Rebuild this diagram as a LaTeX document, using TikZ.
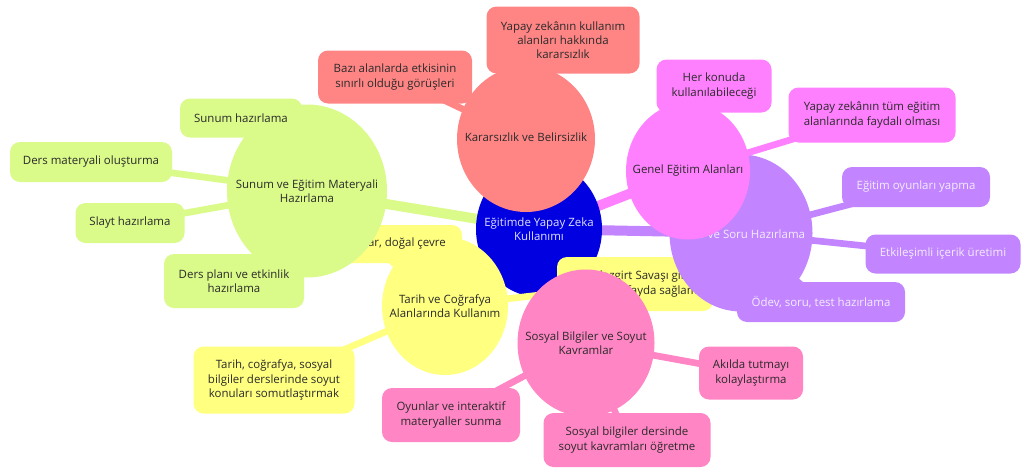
\documentclass[tikz,border=0pt]{standalone}
\usepackage{fontspec}
\setmainfont{Open Sans}
\usetikzlibrary{shapes.geometric}
\definecolor{cblue}{HTML}{0000E0}
\definecolor{cred}{HTML}{FF8585}
\definecolor{cgreen}{HTML}{DAFA8A}
\definecolor{cyellow}{HTML}{FFFF80}
\definecolor{cmag}{HTML}{FF80FF}
\definecolor{cpurp}{HTML}{C285FF}
\definecolor{cpink}{HTML}{FF85C4}
\definecolor{dtext}{HTML}{2A2A2A}
\definecolor{ltext}{HTML}{F2ECFF}
\tikzset{
  sz/.style 2 args={minimum width=#1*0.75pt, minimum height=#2*0.75pt},
  hub/.style={ellipse, draw=none, inner sep=0pt, outer sep=0pt},
  box/.style={rectangle, rounded corners=7.5pt, draw=none, inner sep=0pt, outer sep=0pt},
  txt/.style={align=center, text=dtext, inner sep=0pt, font=\fontsize{8.6pt}{10.7pt}\selectfont},
  ltxt/.style={txt, text=ltext},
  mainedge/.style={line width=7.5pt},
  leafedge/.style={line width=5pt},
}
\begin{document}
\begin{tikzpicture}[x=0.75pt,y=-0.75pt]
\useasboundingbox (0,0) rectangle (1034,468);
% hub centres
\coordinate (cC) at (539,229);
\coordinate (cY) at (445,306);
\coordinate (cG) at (307,191);
\coordinate (cP) at (741,233);
\coordinate (cR) at (526,139);
\coordinate (cM) at (688,171);
\coordinate (cS) at (586,343);
% leaf centres
\coordinate (lBazi) at (395,77);
\coordinate (lYzk) at (563,40);
\coordinate (lSunum) at (241,118);
\coordinate (lDersmat) at (91,162);
\coordinate (lSlayt) at (130,223);
\coordinate (lDersplan) at (234,281);
\coordinate (lDogal) at (371,244);
\coordinate (lTarih) at (274,380);
\coordinate (lMalaz) at (635,284);
\coordinate (lAkil) at (751,373);
\coordinate (lSosyal) at (627,440);
\coordinate (lOyun) at (451,415);
\coordinate (lOyunyap) at (916,187);
\coordinate (lEtkil) at (943,254);
\coordinate (lOdev) at (821,302);
\coordinate (lHer) at (714,86);
\coordinate (lTum) at (872,115);

% main connectors
\draw[mainedge, cyellow] (cC) -- (cY);
\draw[mainedge, cgreen] (cC) -- (cG);
\draw[mainedge, cpurp] (cC) -- (cP);
\draw[mainedge, cred] (cC) -- (cR);
\draw[mainedge, cmag] (cC) -- (cM);
\draw[mainedge, cpink] (cC) -- (cS);

% centre
\node[hub, fill=cblue, sz={126}{136}] (C) at (cC) {};
\node[ltxt, text=white!88!blue] (Ct) at (cC) {Eğitimde Yapay Zeka\\Kullanımı};

% yellow branch
\draw[leafedge, cyellow] (cY) -- (lDogal);
\draw[leafedge, cyellow] (cY) -- (lTarih);
\draw[leafedge, cyellow] (cY) -- (lMalaz);
\node[hub, fill=cyellow, sz={126}{138}] (Y) at (cY) {};
\node[txt] (Yt) at (cY) {Tarih ve Coğrafya\\Alanlarında Kullanım};
\node[box, fill=cyellow, sz={182}{38}] (Dogal) at (lDogal) {};
\node[txt, anchor=east] (Dogalt) at (446,244) {Tarihi mekanlar, doğal çevre};
\node[box, fill=cyellow, sz={161}{67}] (Tarihl) at (lTarih) {};
\node[txt] (Tarihlt) at (lTarih) {Tarih, coğrafya, sosyal\\bilgiler derslerinde soyut\\konuları somutlaştırmak};
\node[box, fill=cyellow, sz={156}{54}] (Malaz) at (lMalaz) {};
\node[txt] (Malazt) at (637,284) {Malazgirt Savaşı gibi\\konularda fayda sağlama};

% green branch
\draw[leafedge, cgreen] (cG) -- (lSunum);
\draw[leafedge, cgreen] (cG) -- (lDersmat);
\draw[leafedge, cgreen] (cG) -- (lSlayt);
\draw[leafedge, cgreen] (cG) -- (lDersplan);
\node[hub, fill=cgreen, sz={160}{173}] (G) at (cG) {};
\node[txt] (Gt) at (cG) {Sunum ve Eğitim Materyali\\Hazırlama};
\node[box, fill=cgreen, sz={122}{39}] (Sunum) at (lSunum) {};
\node[txt] (Sunumt) at (lSunum) {Sunum hazırlama};
\node[box, fill=cgreen, sz={162}{40}] (Dersmat) at (lDersmat) {};
\node[txt] (Dersmatt) at (lDersmat) {Ders materyali oluşturma};
\node[box, fill=cgreen, sz={109}{40}] (Slayt) at (lSlayt) {};
\node[txt] (Slaytt) at (lSlayt) {Slayt hazırlama};
\node[box, fill=cgreen, sz={140}{54}] (Dersplan) at (lDersplan) {};
\node[txt] (Dersplant) at (lDersplan) {Ders planı ve etkinlik\\hazırlama};

% purple branch
\draw[leafedge, cpurp] (cP) -- (lOyunyap);
\draw[leafedge, cpurp] (cP) -- (lEtkil);
\draw[leafedge, cpurp] (cP) -- (lOdev);
\node[hub, fill=cpurp, sz={143}{157}] (P) at (cP) {};
\node[ltxt] (Pt) at (cP) {Ödev ve Soru Hazırlama};
\node[box, fill=cpurp, sz={148}{40}] (Oyunyap) at (lOyunyap) {};
\node[ltxt] (Oyunyapt) at (lOyunyap) {Eğitim oyunları yapma};
\node[box, fill=cpurp, sz={155}{39}] (Etkil) at (lEtkil) {};
\node[ltxt] (Etkilt) at (lEtkil) {Etkileşimli içerik üretimi};
\node[box, fill=cpurp, sz={168}{40}] (Odev) at (lOdev) {};
\node[ltxt] (Odevt) at (lOdev) {Ödev, soru, test hazırlama};

% red branch
\draw[leafedge, cred] (cR) -- (lBazi);
\draw[leafedge, cred] (cR) -- (lYzk);
\node[hub, fill=cred, sz={138}{146}] (R) at (cR) {};
\node[txt] (Rt) at (526,137) {Kararsızlık ve Belirsizlik};
\node[box, fill=cred, sz={154}{53}] (Bazi) at (lBazi) {};
\node[txt] (Bazit) at (lBazi) {Bazı alanlarda etkisinin\\sınırlı olduğu görüşleri};
\node[box, fill=cred, sz={153}{67}] (Yzk) at (lYzk) {};
\node[txt] (Yzkt) at (lYzk) {Yapay zekânın kullanım\\alanları hakkında\\kararsızlık};

% magenta branch
\draw[leafedge, cmag] (cM) -- (lHer);
\draw[leafedge, cmag] (cM) -- (lTum);
\node[hub, fill=cmag, sz={124}{137}] (M) at (cM) {};
\node[txt] (Mt) at (cM) {Genel Eğitim Alanları};
\node[box, fill=cmag, sz={115}{53}] (Her) at (lHer) {};
\node[txt] (Hert) at (lHer) {Her konuda\\kullanılabileceği};
\node[box, fill=cmag, sz={167}{55}] (Tum) at (lTum) {};
\node[txt] (Tumt) at (lTum) {Yapay zekânın tüm eğitim\\alanlarında faydalı olması};

% pink branch
\draw[leafedge, cpink] (cS) -- (lAkil);
\draw[leafedge, cpink] (cS) -- (lSosyal);
\draw[leafedge, cpink] (cS) -- (lOyun);
\node[hub, fill=cpink, sz={137}{147}] (S) at (cS) {};
\node[txt] (St) at (cS) {Sosyal Bilgiler ve Soyut\\Kavramlar};
\node[box, fill=cpink, sz={104}{53}] (Akil) at (lAkil) {};
\node[txt] (Akilt) at (lAkil) {Akılda tutmayı\\kolaylaştırma};
\node[box, fill=cpink, sz={167}{54}] (Sosyal) at (lSosyal) {};
\node[txt] (Sosyalt) at (lSosyal) {Sosyal bilgiler dersinde\\soyut kavramları öğretme};
\node[box, fill=cpink, sz={138}{54}] (Oyun) at (lOyun) {};
\node[txt] (Oyunt) at (lOyun) {Oyunlar ve interaktif\\materyaller sunma};
\end{tikzpicture}
\end{document}
